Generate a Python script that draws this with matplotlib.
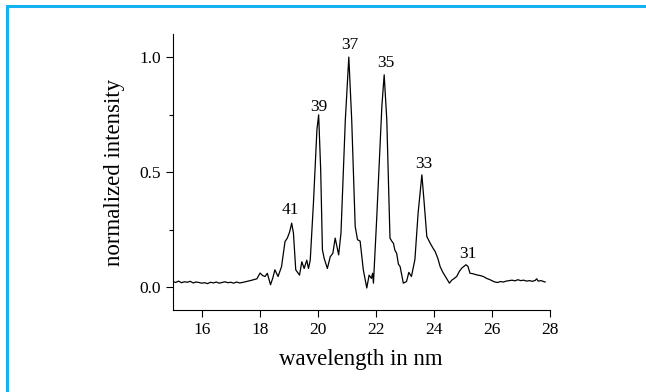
import matplotlib
matplotlib.use("Agg")
import matplotlib.pyplot as plt
from matplotlib.patches import Rectangle
from matplotlib.ticker import MultipleLocator, FormatStrFormatter

plt.rcParams['font.family'] = ['Liberation Serif', 'DejaVu Serif']

# spectrum (wavelength in nm, normalized intensity)
wavelength = [
    15.0, 15.1, 15.2, 15.3, 15.4, 15.5, 15.6, 15.7, 15.8, 15.9,
    16.0, 16.1, 16.2, 16.3, 16.4, 16.5, 16.6, 16.7, 16.8, 16.9,
    17.0, 17.1, 17.2, 17.3, 17.4, 17.5, 17.6, 17.7, 17.78, 17.9,
    18.01, 18.1, 18.18, 18.26, 18.37, 18.45, 18.52, 18.63, 18.75, 18.87,
    18.95, 19.03, 19.10, 19.16, 19.24, 19.37, 19.45, 19.53, 19.62, 19.68,
    19.74, 19.85, 19.97, 20.03, 20.10, 20.16, 20.22, 20.33, 20.43, 20.52,
    20.60, 20.66, 20.72, 20.80, 20.95, 21.07, 21.17, 21.29, 21.37, 21.46,
    21.57, 21.69, 21.77, 21.85, 21.89, 21.92, 22.03, 22.21, 22.29, 22.38,
    22.49, 22.55, 22.61, 22.66, 22.72, 22.78, 22.84, 22.95, 23.06, 23.14,
    23.23, 23.35, 23.46, 23.59, 23.67, 23.76, 23.88, 23.97, 24.05, 24.14,
    24.22, 24.31, 24.40, 24.54, 24.62, 24.68, 24.79, 24.88, 24.97, 25.11,
    25.18, 25.25, 25.35, 25.48, 25.6, 25.71, 25.82, 25.94, 26.02, 26.11,
    26.2, 26.3, 26.4, 26.5, 26.6, 26.7, 26.8, 26.9, 27.0, 27.1,
    27.2, 27.3, 27.4, 27.5, 27.55, 27.6, 27.7, 27.84,
]
intensity = [
    0.024, 0.020, 0.026, 0.019, 0.023, 0.021, 0.025, 0.018, 0.022, 0.020,
    0.017, 0.019, 0.015, 0.021, 0.018, 0.022, 0.017, 0.020, 0.023, 0.019,
    0.021, 0.017, 0.022, 0.018, 0.020, 0.023, 0.026, 0.029, 0.032, 0.036,
    0.061, 0.050, 0.046, 0.060, 0.010, 0.040, 0.075, 0.046, 0.089, 0.198,
    0.213, 0.240, 0.278, 0.235, 0.075, 0.052, 0.110, 0.081, 0.117, 0.081,
    0.117, 0.365, 0.684, 0.749, 0.510, 0.162, 0.125, 0.081, 0.132, 0.147,
    0.213, 0.176, 0.140, 0.235, 0.727, 1.000, 0.727, 0.264, 0.206, 0.200,
    0.075, -0.004, 0.052, 0.038, 0.060, 0.017, 0.293, 0.786, 0.923, 0.727,
    0.213, 0.200, 0.190, 0.160, 0.147, 0.100, 0.089, 0.017, 0.024, 0.064,
    0.046, 0.120, 0.322, 0.488, 0.365, 0.220, 0.190, 0.170, 0.154, 0.125,
    0.089, 0.065, 0.046, 0.017, 0.030, 0.035, 0.046, 0.068, 0.083, 0.097,
    0.090, 0.060, 0.058, 0.053, 0.050, 0.046, 0.038, 0.032, 0.027, 0.022,
    0.020, 0.024, 0.022, 0.026, 0.028, 0.030, 0.027, 0.032, 0.028, 0.030,
    0.026, 0.028, 0.025, 0.029, 0.036, 0.026, 0.028, 0.022,
]

# harmonic order labels at each peak
peak_labels = ['41', '39', '37', '35', '33', '31']
peak_x = [19.05, 20.04, 21.09, 22.33, 23.64, 25.16]
peak_y = [0.30, 0.75, 1.02, 0.94, 0.50, 0.11]

fig = plt.figure(figsize=(6.46, 3.92), dpi=100)
ax = fig.add_axes([0.2675, 0.209, 0.5835, 0.704])

ax.plot(wavelength, intensity, color='black', lw=0.9)

for lab, px, py in zip(peak_labels, peak_x, peak_y):
    ax.text(px, py, lab, ha='center', va='bottom', fontsize=12.5)

ax.set_xlim(15, 28)
ax.set_ylim(-0.1, 1.1)
ax.xaxis.set_major_locator(MultipleLocator(2))
ax.yaxis.set_major_locator(MultipleLocator(0.5))
ax.yaxis.set_minor_locator(MultipleLocator(0.25))
ax.yaxis.set_major_formatter(FormatStrFormatter('%.1f'))
ax.spines['top'].set_visible(False)
ax.spines['right'].set_visible(False)
ax.tick_params(which='major', length=5, width=0.8, labelsize=12.5, direction='out')
ax.tick_params(which='minor', length=3, width=0.8)

ax.set_xlabel('wavelength in nm', fontsize=16.5, labelpad=8)
ax.set_ylabel('normalized intensity', fontsize=16.5, labelpad=10)

# blue frame of the screenshot (open at right and bottom edges)
top = 1 - 6.5 / 392
fig.patches.append(Rectangle((6.5 / 646, -0.1), 1.2, top + 0.1,
                             transform=fig.transFigure, fill=False,
                             edgecolor='#14b2f0', lw=2.2))

fig.savefig('out.png', dpi=100)
